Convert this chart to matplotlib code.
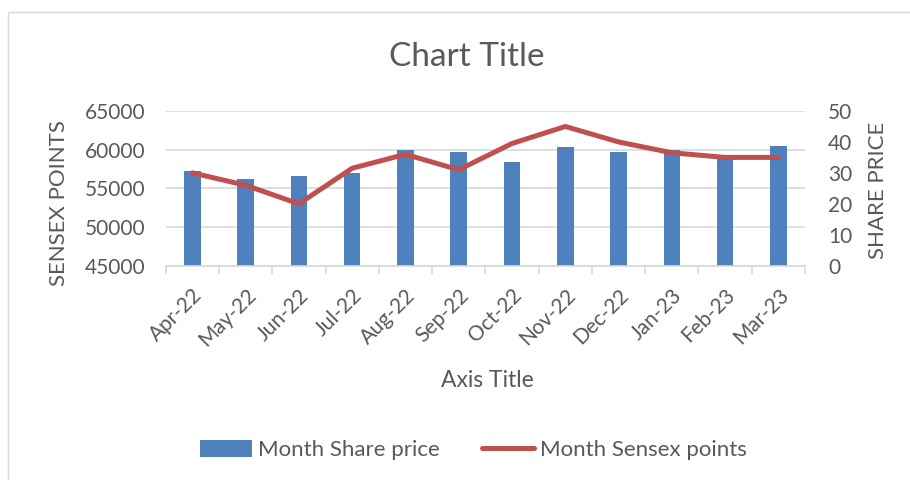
import matplotlib
matplotlib.use('Agg')
import matplotlib.pyplot as plt
from matplotlib.patches import Rectangle, Patch
from matplotlib.lines import Line2D
from matplotlib.transforms import ScaledTranslation

months = ['Apr-22', 'May-22', 'Jun-22', 'Jul-22', 'Aug-22', 'Sep-22',
          'Oct-22', 'Nov-22', 'Dec-22', 'Jan-23', 'Feb-23', 'Mar-23']
share_price = [57300, 56150, 56550, 57000, 60000, 59750,
               58400, 60400, 59700, 59950, 59000, 60450]
sensex_points = [30, 26, 20, 31.5, 36, 31, 39.5, 45, 40, 36.5, 35, 35]

plt.rcParams['font.family'] = ['Lato', 'DejaVu Sans']
grey = '#595959'
bar_col = '#4F81BD'
line_col = '#C0504D'

fig = plt.figure(figsize=(9.1, 4.8), dpi=100)
# chart border (cut off on right/bottom like the screenshot)
fig.patches.append(Rectangle((8/910, -0.1), 1.0, 1 - 12/480 + 0.1, transform=fig.transFigure,
                             fill=False, edgecolor='#D9D9D9', lw=1))

ax = fig.add_axes([165.7/910, 1-265.7/480, (805-165.7)/910, (265.7-111)/480])
x = range(len(months))
ax.bar(x, [v - 45000 for v in share_price], bottom=45000, width=0.31, color=bar_col, zorder=2)
ax.set_ylim(45000, 65000)
ax.set_xlim(-0.5, len(months) - 0.5)
ax.set_yticks([45000, 50000, 55000, 60000, 65000])
ax.yaxis.grid(True, color='#D9D9D9', lw=1.2)
ax.set_axisbelow(True)
for s in ['left', 'right', 'top']:
    ax.spines[s].set_visible(False)
ax.spines['bottom'].set_color('#D9D9D9')
ax.spines['bottom'].set_linewidth(1.2)
ax.set_xticks(list(x))
ax.set_xticklabels(months, rotation=45, ha='right', rotation_mode='anchor',
                   fontsize=15, color=grey)
for lab in ax.get_xticklabels():
    lab.set_transform(lab.get_transform() + ScaledTranslation(-0.16, 0, fig.dpi_scale_trans))
ax.set_xticks([i - 0.5 for i in range(len(months) + 1)], minor=True)
ax.tick_params(axis='x', which='major', length=0, pad=14)
ax.tick_params(axis='x', which='minor', length=6, color='#D9D9D9', width=1.2)
ax.tick_params(axis='y', length=0, labelsize=15, labelcolor=grey, pad=14.4)
ax.set_ylabel('SENSEX POINTS', fontsize=16, color=grey)
ax.yaxis.set_label_coords(-0.1513, 0.405)
ax.set_xlabel('Axis Title', fontsize=16.5, color=grey)
ax.xaxis.set_label_coords(0.5026, -0.672)

ax2 = ax.twinx()
ax2.plot(list(x), sensex_points, color=line_col, lw=3.6, solid_capstyle='round',
         solid_joinstyle='round', zorder=3)
ax2.set_ylim(0, 50)
ax2.set_yticks([0, 10, 20, 30, 40, 50])
for s in ['left', 'right', 'top', 'bottom']:
    ax2.spines[s].set_visible(False)
ax2.tick_params(axis='y', length=0, labelsize=15, labelcolor=grey, pad=16.5)
ax2.set_ylabel('SHARE PRICE', fontsize=16, color=grey)
ax2.yaxis.set_label_coords(1.0986, 0.489)

fig.text(467/910, 1 - 57/480, 'Chart Title', ha='center', va='center', fontsize=24, color=grey)

handles = [Patch(facecolor=bar_col, edgecolor='none'),
           Line2D([0], [0], color=line_col, lw=3.6, solid_capstyle='round')]
fig.legend(handles, ['Month Share price', 'Month Sensex points'], loc='center',
           bbox_to_anchor=(473/910, 1 - 450/480), ncol=2, frameon=False,
           fontsize=16, labelcolor=grey, handlelength=2.34, handleheight=0.8,
           handletextpad=0.27, columnspacing=1.9)

fig.savefig('out.png', dpi=100, facecolor='white')
